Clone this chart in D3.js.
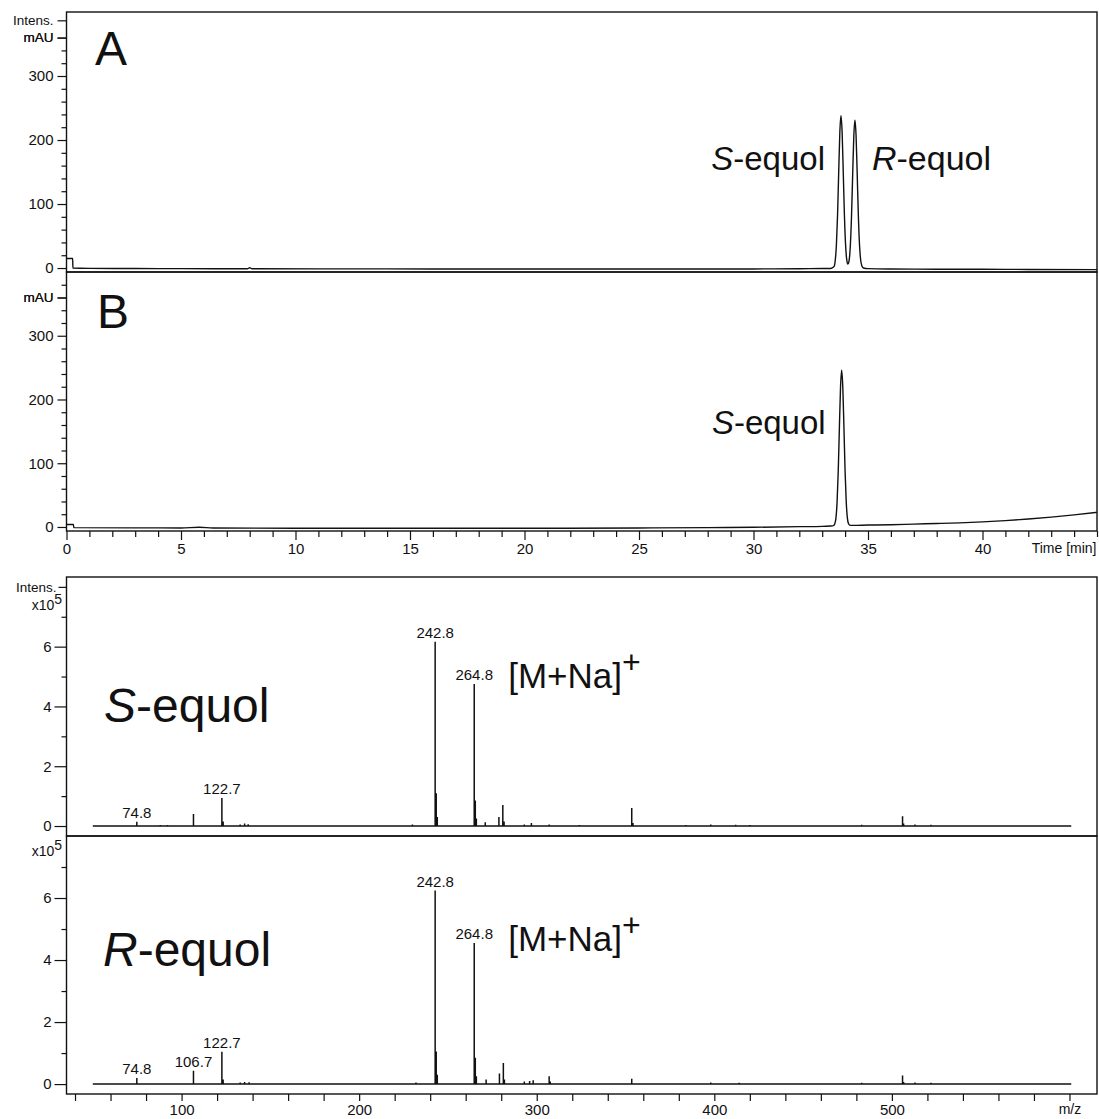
<!DOCTYPE html>
<html><head><meta charset="utf-8">
<script src="https://cdn.jsdelivr.net/npm/d3@7"></script>
<style>
body{margin:0;background:#fff}
svg{display:block}
text{font-family:"Liberation Sans",Arial,Helvetica,sans-serif;fill:#111}
</style>
</head><body>
<svg id="c" width="1099" height="1119"></svg>
<script>
// ---------- DATA ----------
// Chromatogram A (racemic equol): [time (min), intensity (mAU)]
const chromA = [
  [0,15],[0.27,15],[0.28,0],[1,-0.5],[3,-0.8],[5,-1],[7.9,-1.2],[8,0.5],[8.1,-1.2],[12,-1.3],
  [16,-1.4],[20,-1.5],[25,-1.5],[30,-1.4],[32,-1.1],[33,-0.8],[33.3,-0.8],[33.42,0],[33.52,2.5],
  [33.57,12],[33.62,36],[33.67,82],[33.72,149],[33.77,212],[33.82,238],[33.87,212],[33.92,149],
  [33.97,83],[34.02,37],[34.07,13.4],[34.12,6.2],[34.17,10.6],[34.23,36],[34.28,81],[34.33,145],
  [34.38,206],[34.43,231],[34.48,206],[34.53,145],[34.58,81],[34.63,36],[34.68,12.5],[34.73,3.5],
  [34.8,0],[35,-1],[36,-1.5],[38,-1.8],[40,-2],[42,-2.2],[45,-2.5]
];
// Chromatogram B (S-equol)
const chromB = [
  [0,4],[0.3,4],[0.32,-1],[3,-1.4],[5,-1.5],[5.8,-0.5],[6.4,-1.5],[10,-2],[15,-2],[20,-2],
  [25,-1.5],[28,-1],[30,-0.5],[32,0.5],[33,1],[33.35,1.5],[33.45,1.7],[33.5,2.3],[33.55,5],
  [33.6,14],[33.65,39],[33.7,87],[33.75,155],[33.8,219],[33.85,246],[33.9,219],[33.95,155],
  [34,87],[34.05,39],[34.1,14],[34.15,5],[34.2,3],[34.3,2.5],[35,3],[36,3.5],[37,4.5],[38,5.5],
  [39,6.5],[40,8],[41,10],[42,12.5],[43,15.5],[44,19],[45,23]
];
const timeTickLabels = [0,5,10,15,20,25,30,35,40];
const chromYLabels = [0,100,200,300];

// Mass spectra: [m/z, intensity x10^5]
const msRange = [50,601];
const msS = [
  [56,0.02],[63,0.02],[74.8,0.14],[88,0.03],[92,0.03],[106.7,0.4],[122.7,0.94],[123.4,0.15],
  [133,0.05],[135.5,0.08],[137.5,0.06],[148,0.02],[160,0.02],[230,0.05],[242.8,6.16],[243.4,1.1],
  [244,0.3],[264.8,4.75],[265.4,0.85],[266,0.25],[271,0.13],[278.7,0.3],[280.9,0.7],[281.6,0.15],
  [293,0.05],[297,0.1],[307,0.05],[324,0.03],[353.5,0.6],[354.2,0.1],[384,0.03],[398,0.05],
  [412,0.04],[420,0.03],[430,0.02],[483,0.04],[506,0.33],[506.6,0.08],[513,0.05],[522,0.04],[580,0.02]
];
const msR = [
  [56,0.02],[63,0.02],[74.8,0.2],[88,0.03],[92,0.03],[106.7,0.43],[122.7,1.04],[123.4,0.15],
  [133,0.05],[135.5,0.07],[138,0.06],[148,0.02],[232,0.05],[242.8,6.24],[243.4,1.05],[244,0.3],
  [264.8,4.55],[265.4,0.85],[266,0.25],[271.5,0.15],[279,0.34],[281.2,0.68],[281.8,0.15],
  [293,0.08],[296,0.1],[298,0.12],[307,0.25],[307.6,0.08],[324,0.03],[353.5,0.17],[384,0.03],
  [398,0.05],[414,0.04],[430,0.03],[483,0.04],[506,0.28],[506.6,0.07],[513,0.05],[522,0.04],[530,0.03]
];
const labelsS = [[74.8,0.14,"74.8"],[122.7,0.94,"122.7"],[242.8,6.16,"242.8"],[264.8,4.75,"264.8"]];
const labelsR = [[74.8,0.2,"74.8"],[106.7,0.43,"106.7"],[122.7,1.04,"122.7"],[242.8,6.24,"242.8"],[264.8,4.55,"264.8"]];
const mzTickLabels = [100,200,300,400,500];

// ---------- DRAW ----------
const svg = d3.select("#c");
const INK = "#111";
const L = 66.5, R = 1097;

// Chromatogram scales
const xT = d3.scaleLinear().domain([0,45]).range([L,R]);
const yA = d3.scaleLinear().domain([-6.2,400]).range([272,12]);
const yB = d3.scaleLinear().domain([-6.3,400]).range([531,272]);

function frame(top,bottom){
  svg.append("rect").attr("x",L).attr("y",top).attr("width",R-L).attr("height",bottom-top)
    .attr("fill","none").attr("stroke",INK).attr("stroke-width",1.4);
}

function chromYAxis(y, maxTick, extra){
  const vals = d3.range(0, maxTick+1, 20).concat(extra.map(e=>e[0]));
  const lab = new Map(chromYLabels.map(v=>[v,String(v)]));
  extra.forEach(e=>lab.set(e[0],e[1]));
  const g = svg.append("g").attr("transform",`translate(${L},0)`)
    .call(d3.axisLeft(y).tickValues(vals).tickSize(9).tickSizeOuter(0).tickPadding(4)
      .tickFormat(d=>lab.has(d)?lab.get(d):""));
  g.select(".domain").remove();
  g.selectAll(".tick line").attr("stroke",INK).attr("stroke-width",1.2)
    .attr("x2",d=>lab.has(d)?-9:-5);
  g.selectAll(".tick text").attr("font-size",15).attr("fill",INK);
  g.selectAll(".tick text").filter(d=>typeof lab.get(d)==="string" && isNaN(+lab.get(d)))
    .attr("font-size",13.5);
  return g;
}

frame(12,272); frame(272,531);
chromYAxis(yA,360,[[360,"mAU"],[387,"Intens."]]);
chromYAxis(yB,380,[[360,"mAU"]]);

// time axis
const gx = svg.append("g").attr("transform","translate(0,531)")
  .call(d3.axisBottom(xT).tickValues(d3.range(0,46,1)).tickSize(9).tickSizeOuter(0).tickPadding(3)
    .tickFormat(d=>timeTickLabels.includes(d)?String(d):(d===45?"Time [min]":"")));
gx.select(".domain").remove();
gx.selectAll(".tick line").attr("stroke",INK).attr("stroke-width",1.2)
  .attr("y2",d=>timeTickLabels.includes(d)?9:6);
gx.selectAll(".tick text").attr("font-size",15).attr("fill",INK);
gx.selectAll(".tick").filter(d=>d===45).select("text").attr("text-anchor","end").attr("font-size",14).attr("x",-1);

const lineA = d3.line().x(d=>xT(d[0])).y(d=>yA(d[1])).curve(d3.curveMonotoneX);
const lineB = d3.line().x(d=>xT(d[0])).y(d=>yB(d[1])).curve(d3.curveMonotoneX);
svg.append("path").attr("d",lineA(chromA)).attr("fill","none").attr("stroke",INK).attr("stroke-width",1.4);
svg.append("path").attr("d",lineB(chromB)).attr("fill","none").attr("stroke",INK).attr("stroke-width",1.4);

// chromatogram annotations
svg.append("text").attr("x",95).attr("y",65).attr("font-size",48).text("A");
svg.append("text").attr("x",97).attr("y",328).attr("font-size",48).text("B");
function equolLabel(x,y,letter,anchor,size){
  const t = svg.append("text").attr("x",x).attr("y",y).attr("font-size",size).attr("text-anchor",anchor);
  t.append("tspan").attr("font-style","italic").text(letter);
  t.append("tspan").text("-equol");
  return t;
}
equolLabel(xT(33.82)-16,170,"S","end",33);
equolLabel(xT(34.43)+17,170,"R","start",34);
equolLabel(xT(33.85)-16,434,"S","end",33);

// Mass spectra scales
const xM = d3.scaleLinear().domain([35.2,615.5]).range([L,R]);
const yS = d3.scaleLinear().domain([-0.334,8.33]).range([836,577]);
const yRr = d3.scaleLinear().domain([-0.32,8.0]).range([1094,836]);

frame(577,836); frame(836,1094);

function msYAxis(y, extra){
  const vals = d3.range(0,8,1).concat(extra?[8]:[]);
  const g = svg.append("g").attr("transform",`translate(${L},0)`)
    .call(d3.axisLeft(y).tickValues(vals).tickSize(12).tickSizeOuter(0).tickPadding(3)
      .tickFormat(d=>d===8?"Intens.":(d%2===0?String(d):"")));
  g.select(".domain").remove();
  g.selectAll(".tick line").attr("stroke",INK).attr("stroke-width",1.2)
    .attr("x2",d=>d===8?-8:(d%2===0?-12:-5));
  g.selectAll(".tick text").attr("font-size",15).attr("fill",INK);
  g.selectAll(".tick").filter(d=>d===8).select("text").attr("font-size",13.5).attr("x",-10);
  return g;
}
msYAxis(yS,true);
msYAxis(yRr,false);

function x105(x,y){
  const t = svg.append("text").attr("x",x).attr("y",y).attr("font-size",14).attr("text-anchor","end");
  t.append("tspan").text("x10");
  t.append("tspan").attr("dy",-6).attr("font-size",14).text("5");
  return t;
}
x105(62,610);
x105(62,856);

const gm = svg.append("g").attr("transform","translate(0,1094)")
  .call(d3.axisBottom(xM).tickValues(d3.range(40,601,20)).tickSize(7).tickSizeOuter(0).tickPadding(3)
    .tickFormat(d=>mzTickLabels.includes(d)?String(d):(d===600?"m/z":"")));
gm.select(".domain").remove();
gm.selectAll(".tick line").attr("stroke",INK).attr("stroke-width",1.2);
gm.selectAll(".tick text").attr("font-size",15).attr("fill",INK);
gm.selectAll(".tick").filter(d=>d===600).select("text").attr("font-size",14);

function spectrum(data,y){
  const pts = [[msRange[0],0]];
  data.forEach(p=>{pts.push([p[0],0],[p[0],p[1]],[p[0],0]);});
  pts.push([msRange[1],0]);
  const ln = d3.line().x(d=>xM(d[0])).y(d=>y(d[1]));
  svg.append("path").attr("d",ln(pts)).attr("fill","none").attr("stroke",INK)
    .attr("stroke-width",1.5).attr("stroke-linejoin","miter");
}
spectrum(msS,yS);
spectrum(msR,yRr);

function peakLabels(lbls,y){
  lbls.forEach(l=>{
    svg.append("text").attr("x",xM(l[0])).attr("y",y(l[1])-4).attr("text-anchor","middle")
      .attr("font-size",15).text(l[2]);
  });
}
peakLabels(labelsS,yS);
peakLabels(labelsR,yRr);

function mna(x,y){
  const t = svg.append("text").attr("x",x).attr("y",y).attr("font-size",35);
  t.append("tspan").text("[M+Na]");
  t.append("tspan").attr("dy",-15).attr("font-size",32).text("+");
}
mna(xM(264.8)+34,688);
mna(xM(264.8)+34,951);

equolLabel(104,722,"S","start",48);
equolLabel(103,966,"R","start",48);
</script>
</body></html>
